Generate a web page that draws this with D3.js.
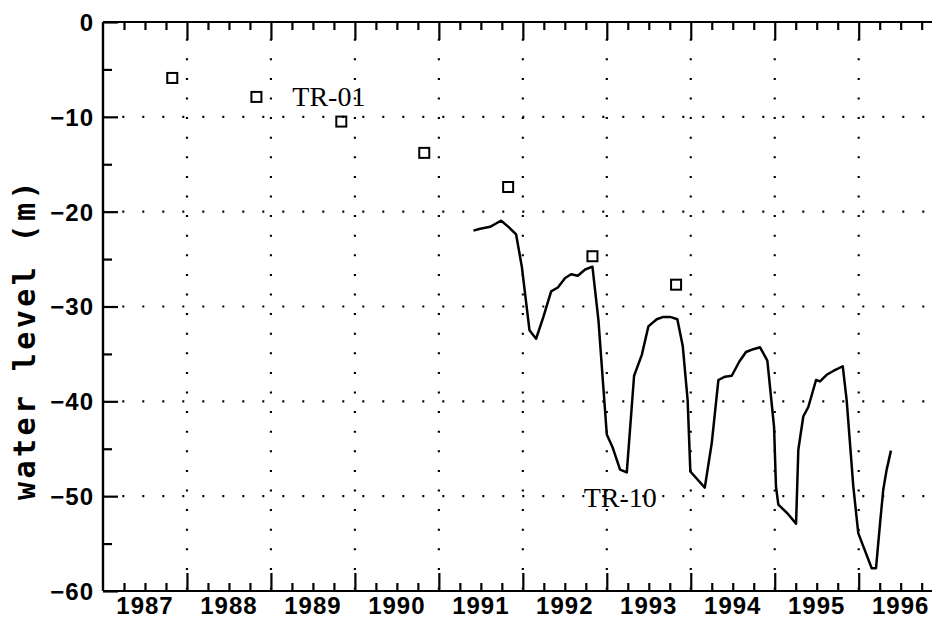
<!DOCTYPE html>
<html>
<head>
<meta charset="utf-8">
<script src="https://cdn.jsdelivr.net/npm/d3@7"></script>
<style>
  body { margin: 0; background: #fff; }
  .tick-label { font-family: 'Liberation Sans', Arial, sans-serif; font-weight: bold; font-size: 24px; letter-spacing: 1px; fill: #000; }
  .series-label { font-family: 'Liberation Serif', 'Times New Roman', serif; font-size: 28px; fill: #000; }
  .axis-title { font-family: 'DejaVu Sans Mono', monospace; font-weight: bold; font-size: 30px; letter-spacing: 3.4px; fill: #000; }
</style>
</head>
<body>
<div class="chart"></div>
<script>
// TR-01 yearly readings (squares)
var tr01_dates = [1987.825, 1988.827, 1989.838, 1990.826, 1991.825, 1992.829, 1993.825]
var tr01_levels = [-5.9, -7.9, -10.5, -13.8, -17.4, -24.7, -27.7]

// TR-10 record (line)
var tr10_dates = [
  1991.412, 1991.492, 1991.611, 1991.670, 1991.742, 1991.829, 1991.920, 1991.988,
  1992.079, 1992.158, 1992.245, 1992.337, 1992.417, 1992.504, 1992.575, 1992.655,
  1992.742, 1992.829, 1992.900, 1993.000, 1993.071, 1993.158, 1993.238, 1993.325,
  1993.417, 1993.495, 1993.595, 1993.674, 1993.754, 1993.840, 1993.905, 1993.963,
  1993.995, 1994.167, 1994.250, 1994.329, 1994.408, 1994.488, 1994.579, 1994.658,
  1994.745, 1994.825, 1994.912, 1994.992, 1995.015, 1995.043, 1995.150, 1995.254,
  1995.281, 1995.340, 1995.400, 1995.492, 1995.539, 1995.619, 1995.698, 1995.810,
  1995.857, 1995.936, 1995.995, 1996.055, 1996.155, 1996.206, 1996.254, 1996.292,
  1996.333, 1996.384
]
var tr10_levels = [
  -22.0, -21.8, -21.6, -21.3, -20.95, -21.6, -22.4, -25.8,
  -32.5, -33.4, -31.1, -28.4, -28.0, -27.0, -26.6, -26.75,
  -26.1, -25.8, -31.4, -43.5, -44.9, -47.2, -47.5, -37.3,
  -35.1, -32.1, -31.35, -31.1, -31.1, -31.35, -34.2, -39.9,
  -47.4, -49.1, -44.4, -37.75, -37.4, -37.3, -35.8, -34.8,
  -34.5, -34.3, -35.7, -42.7, -49.0, -50.9, -51.8, -52.9,
  -45.1, -41.6, -40.6, -37.75, -37.9, -37.2, -36.8, -36.3,
  -39.9, -49.0, -53.9, -55.3, -57.6, -57.6, -52.9, -49.35,
  -47.2, -45.2
]

// axis ticks and labels
var year_labels = [1987, 1988, 1989, 1990, 1991, 1992, 1993, 1994, 1995, 1996]
var year_ticks = [1988, 1989, 1990, 1991, 1992, 1993, 1994, 1995, 1996]
var level_ticks = [0, -10, -20, -30, -40, -50, -60]
var level_minor = [-5, -15, -25, -35, -45, -55]
var x_domain = [1987, 1996.873]
var y_domain = [-60, 0]

var width = 932, height = 619
var plot = {left: 103, right: 932, top: 22, bottom: 591}

var xScale = d3.scaleLinear().domain(x_domain).range([plot.left, plot.right])
var yScale = d3.scaleLinear().domain(y_domain).range([plot.bottom, plot.top])

var quarter_ticks = []
for (var t = x_domain[0]; t < x_domain[1]; t += 0.25) {
  if (t % 1 != 0) quarter_ticks.push(t)
}

var svg = d3.select('.chart')
  .append('svg')
  .attr('width', width)
  .attr('height', height)

var fmt = d3.format('d')

// dotted grid
svg.append('g')
  .selectAll('line')
  .data(level_ticks.filter(function(d){ return d != 0 && d != -60 }))
  .enter()
  .append('line')
  .attr('x1', plot.left)
  .attr('x2', plot.right)
  .attr('y1', function(d){ return yScale(d) })
  .attr('y2', function(d){ return yScale(d) })
  .style('stroke', '#000')
  .style('stroke-width', 2.2)
  .style('stroke-dasharray', '2,18')
  .style('stroke-dashoffset', 0.7)

svg.append('g')
  .selectAll('line')
  .data(year_ticks)
  .enter()
  .append('line')
  .attr('x1', function(d){ return xScale(d) })
  .attr('x2', function(d){ return xScale(d) })
  .attr('y1', plot.top)
  .attr('y2', plot.bottom)
  .style('stroke', '#000')
  .style('stroke-width', 2.2)
  .style('stroke-dasharray', '2,17.6')
  .style('stroke-dashoffset', 2.9)

// axes (ticks point inward)
svg.append('g')
  .attr('transform', 'translate(0,' + plot.bottom + ')')
  .call(d3.axisBottom(xScale).tickValues(quarter_ticks).tickSize(-8).tickFormat(''))
svg.append('g')
  .attr('transform', 'translate(0,' + plot.bottom + ')')
  .call(d3.axisBottom(xScale).tickValues(year_ticks).tickSize(-18).tickFormat(''))
svg.append('g')
  .attr('transform', 'translate(0,' + plot.top + ')')
  .call(d3.axisTop(xScale).tickValues(quarter_ticks).tickSize(-8).tickFormat(''))
svg.append('g')
  .attr('transform', 'translate(0,' + plot.top + ')')
  .call(d3.axisTop(xScale).tickValues(year_ticks).tickSize(-18).tickFormat(''))
svg.append('g')
  .attr('transform', 'translate(' + plot.left + ',0)')
  .call(d3.axisLeft(yScale).tickValues(level_minor).tickSize(-9).tickFormat(''))
svg.append('g')
  .attr('class', 'y-axis')
  .attr('transform', 'translate(' + plot.left + ',0)')
  .call(d3.axisLeft(yScale).tickValues(level_ticks).tickSize(-15).tickFormat(fmt))

svg.selectAll('.domain, .tick line')
  .style('stroke', '#000')
  .style('stroke-width', 2.2)
svg.selectAll('.domain').attr('d', function(){
  return d3.select(this.parentNode).attr('transform').indexOf(',0)') > 0
    ? 'M0,' + plot.top + 'V' + plot.bottom
    : 'M' + plot.left + ',0H' + plot.right
})

svg.selectAll('.y-axis .tick text')
  .attr('class', 'tick-label')
  .attr('x', -9)
  .attr('dy', '0.35em')
svg.selectAll('g').attr('font-size', null).attr('font-family', null)

// year labels centred between the major ticks
svg.append('g')
  .selectAll('text')
  .data(year_labels)
  .enter()
  .append('text')
  .attr('class', 'tick-label')
  .attr('x', function(d){ return xScale(d + 0.5) })
  .attr('y', plot.bottom + 23)
  .attr('text-anchor', 'middle')
  .text(function(d){ return d })

// TR-10 line
var line = d3.line()
  .x(function(d){ return xScale(d[0]) })
  .y(function(d){ return yScale(d[1]) })

svg.append('path')
  .datum(d3.zip(tr10_dates, tr10_levels))
  .attr('d', line)
  .style('fill', 'none')
  .style('stroke', '#000')
  .style('stroke-width', 2.5)
  .style('stroke-linejoin', 'round')

// TR-01 squares
svg.append('g')
  .selectAll('rect')
  .data(d3.zip(tr01_dates, tr01_levels))
  .enter()
  .append('rect')
  .attr('x', function(d){ return xScale(d[0]) - 5 })
  .attr('y', function(d){ return yScale(d[1]) - 5 })
  .attr('width', 10)
  .attr('height', 10)
  .style('fill', 'none')
  .style('stroke', '#000')
  .style('stroke-width', 2)

// series labels
svg.append('text')
  .attr('class', 'series-label')
  .attr('x', xScale(1989.69))
  .attr('y', yScale(-8.9))
  .attr('text-anchor', 'middle')
  .text('TR-01')

svg.append('text')
  .attr('class', 'series-label')
  .attr('x', xScale(1993.16))
  .attr('y', yScale(-51.1))
  .attr('text-anchor', 'middle')
  .text('TR-10')

// y axis title
svg.append('text')
  .attr('class', 'axis-title')
  .attr('transform', 'translate(35,339) rotate(-90)')
  .attr('text-anchor', 'middle')
  .text('water level (m)')
</script>
</body>
</html>
